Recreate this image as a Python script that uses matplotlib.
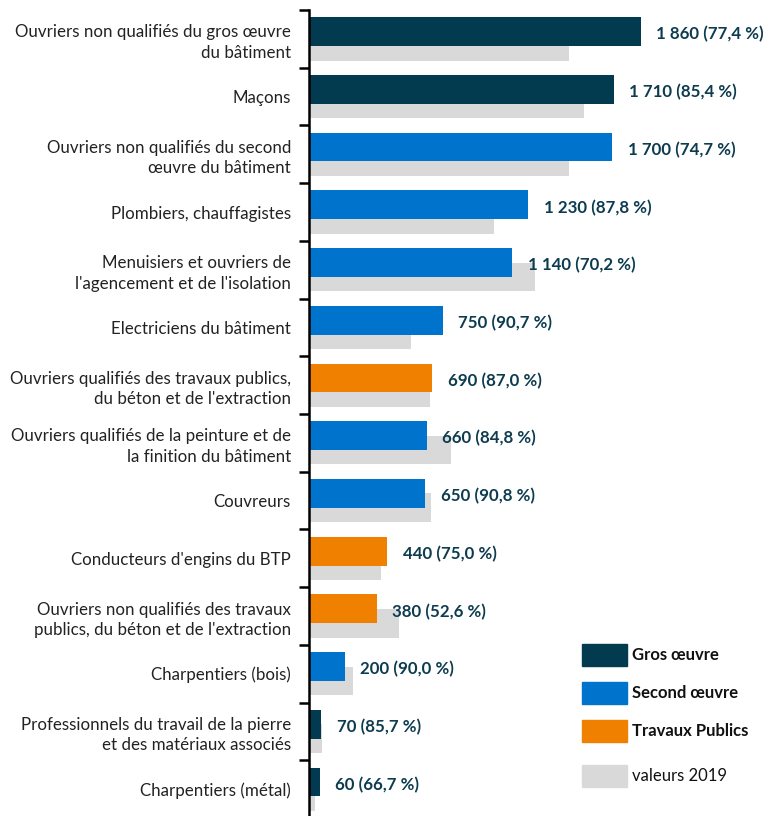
import matplotlib
matplotlib.use("Agg")
import matplotlib.pyplot as plt
import matplotlib.patches as patches
import numpy as np

# Données (effectifs, part, famille) + valeurs 2019
metiers = [
    "Ouvriers non qualifiés du gros œuvre\ndu bâtiment",
    "Maçons",
    "Ouvriers non qualifiés du second\nœuvre du bâtiment",
    "Plombiers, chauffagistes",
    "Menuisiers et ouvriers de\nl'agencement et de l'isolation",
    "Electriciens du bâtiment",
    "Ouvriers qualifiés des travaux publics,\ndu béton et de l'extraction",
    "Ouvriers qualifiés de la peinture et de\nla finition du bâtiment",
    "Couvreurs",
    "Conducteurs d'engins du BTP",
    "Ouvriers non qualifiés des travaux\npublics, du béton et de l'extraction",
    "Charpentiers (bois)",
    "Professionnels du travail de la pierre\net des matériaux associés",
    "Charpentiers (métal)",
]
valeurs = [1860, 1710, 1700, 1230, 1140, 750, 690, 660, 650, 440, 380, 200, 70, 60]
parts = [77.4, 85.4, 74.7, 87.8, 70.2, 90.7, 87.0, 84.8, 90.8, 75.0, 52.6, 90.0, 85.7, 66.7]
familles = ["Gros œuvre", "Gros œuvre", "Second œuvre", "Second œuvre", "Second œuvre",
            "Second œuvre", "Travaux Publics", "Second œuvre", "Second œuvre",
            "Travaux Publics", "Travaux Publics", "Second œuvre", "Gros œuvre", "Gros œuvre"]
valeurs_2019 = [1460, 1545, 1460, 1040, 1270, 573, 680, 798, 685, 404, 506, 247, 73, 35]

couleurs = {"Gros œuvre": "#023B4F", "Second œuvre": "#0074CC", "Travaux Publics": "#F08000"}
gris = "#D9D9D9"
bleu_texte = "#0D3B4F"

plt.rcParams['font.family'] = ['Lato', 'DejaVu Sans']

fig = plt.figure(figsize=(7.76, 8.16), dpi=100)
ax = fig.add_axes([309 / 776, -2 / 816, 467 / 776, 808 / 816])

n = len(metiers)
y = np.arange(n)
h = 0.5
dec = 0.125

ax.barh(y + dec, valeurs_2019, height=h, color=gris, zorder=1)
ax.barh(y - dec, valeurs, height=h, color=[couleurs[f] for f in familles], zorder=2)

for yi, v, p in zip(y, valeurs, parts):
    txt = f"{v:,}".replace(",", " ") + f" ({p:.1f} %)".replace(".", ",")
    ax.text(v + 88, yi - dec + 0.05, txt, va='center', ha='left',
            fontsize=12.2, fontweight='bold', color=bleu_texte)

ax.set_ylim(n - 0.5, -0.5)
ax.set_xlim(0, 2620)
ax.set_yticks(y)
ax.set_yticklabels(metiers, fontsize=12.2, color='#222222', linespacing=1.35)
ax.set_yticks(np.arange(n + 1) - 0.5, minor=True)
ax.tick_params(axis='y', which='major', length=0, pad=13)
ax.tick_params(axis='y', which='minor', length=7, width=1.8, color='black')
for lab in ax.get_yticklabels():
    lab.set_ha('right')
ax.set_xticks([])
for s in ['top', 'right', 'bottom']:
    ax.spines[s].set_visible(False)
ax.spines['left'].set_linewidth(1.8)

# Légende
legende = [("Gros œuvre", couleurs["Gros œuvre"], 'bold', 655),
           ("Second œuvre", couleurs["Second œuvre"], 'bold', 693),
           ("Travaux Publics", couleurs["Travaux Publics"], 'bold', 731),
           ("valeurs 2019", gris, 'normal', 776)]
for lab, c, w, yc in legende:
    fig.patches.append(patches.Rectangle((582 / 776, 1 - (yc + 11) / 816), 45 / 776, 22 / 816,
                                         transform=fig.transFigure, color=c))
    fig.text(632 / 776, 1 - yc / 816, lab, fontsize=12, fontweight=w,
             color='#111111', va='center', ha='left')

fig.savefig("out.png", dpi=100)
